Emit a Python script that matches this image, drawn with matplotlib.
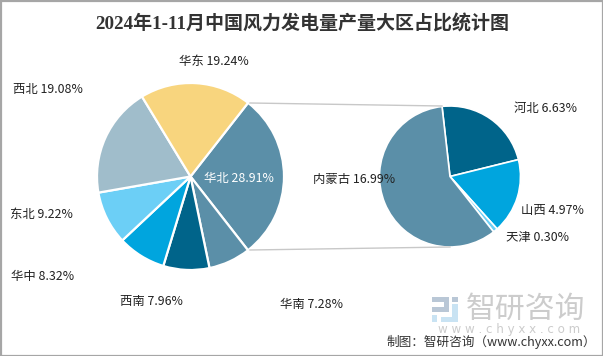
import matplotlib
matplotlib.use('Agg')
import matplotlib.pyplot as plt
from matplotlib.patches import Rectangle

# main pie, clockwise from the top right
regions = ['华北', '华南', '西南', '华中', '东北', '西北', '华东']
shares = [28.91, 7.28, 7.96, 8.32, 9.22, 19.08, 19.24]
region_colors = ['#5B8FA8', '#5B8FA8', '#00648A', '#00A5DE', '#6CCFF6', '#A0BDCB', '#F8D57E']
region_label_x = [239, 311, 151, 43, 41, 48, 214]
region_label_y = [178, 304, 301, 276, 214, 89, 61]

# breakdown of 华北
provinces = ['河北', '山西', '天津', '内蒙古']
prov_shares = [6.63, 4.97, 0.30, 16.99]
prov_colors = ['#00648A', '#00A5DE', '#6CCFF6', '#5B8FA8']
prov_label_x = [545, 552, 538, 354]
prov_label_y = [108, 210, 237, 179]

H = 356
cjk = ['Noto Sans CJK SC', 'DejaVu Sans']

fig = plt.figure(figsize=(6.03, 3.56), dpi=100)
ax = fig.add_axes([0, 0, 1, 1])

ax.plot([250, 442], [H-103, H-106], color='#c8c8c8', lw=1)
ax.plot([250, 450], [H-250, H-247], color='#c8c8c8', lw=1)

ax.pie(shares, colors=region_colors, startangle=52, counterclock=False,
       center=(190.5, H-176.5), radius=93.5,
       wedgeprops={'edgecolor': 'white', 'linewidth': 1.6}, frame=True)
ax.pie(prov_shares, colors=prov_colors, startangle=96.5, counterclock=False,
       center=(450, H-176.5), radius=70.5,
       wedgeprops={'edgecolor': 'white', 'linewidth': 1.2}, frame=True)

ax.set_xlim(0, 603)
ax.set_ylim(0, H)
ax.set_aspect('auto')
ax.axis('off')

for i in range(len(regions)):
    col = 'white' if regions[i] == '华北' else '#222222'
    ax.text(region_label_x[i], H-region_label_y[i]-0.5, f'{regions[i]} {shares[i]:.2f}%',
            family=cjk, fontsize=8.9, color=col, ha='center', va='center')
for i in range(len(provinces)):
    ax.text(prov_label_x[i], H-prov_label_y[i]-0.5, f'{provinces[i]} {prov_shares[i]:.2f}%',
            family=cjk, fontsize=8.9, color='#222222', ha='center', va='center')

ax.text(302, H-24, '2024年1-11月中国风力发电量产量大区占比统计图',
        family=['Liberation Serif', 'Noto Sans CJK SC'], fontsize=13.7, fontweight='bold',
        color='#333333', ha='center', va='center')

# watermark logo
ax.add_patch(Rectangle((432, H-302), 17, 5, color='#b9c7d6', lw=0))
ax.add_patch(Rectangle((444, H-312), 5, 10, color='#b9c7d6', lw=0))
ax.add_patch(Rectangle((432, H-312), 15, 5, color='#b9c7d6', lw=0))
ax.add_patch(Rectangle((432, H-322), 5, 7, color='#c9e3f3', lw=0))
ax.add_patch(Rectangle((441, H-322), 17, 5, color='#c9e3f3', lw=0))
ax.add_patch(Rectangle((452, H-322), 6, 18, color='#c9e3f3', lw=0))
ax.add_patch(Rectangle((452, H-302), 6, 5, color='#b9c7d6', lw=0))
ax.text(526, H-309, '智研咨询', family=cjk, fontsize=21.5, color='#cccccc', ha='center', va='center')
ax.text(509, H-330, 'w w w . c h y x x . c o m', family='DejaVu Sans', fontsize=8.6,
        color='#cccccc', ha='center', va='center')

ax.text(491, H-342, '制图：智研咨询（www.chyxx.com）', family=cjk, fontsize=9.1,
        color='#333333', ha='center', va='center')

# frame round the whole picture
ax.add_patch(Rectangle((0.5, 0.5), 602, H-1, fill=False, edgecolor='#a6a6a6', lw=1.6))

fig.savefig('out.png', dpi=100)
